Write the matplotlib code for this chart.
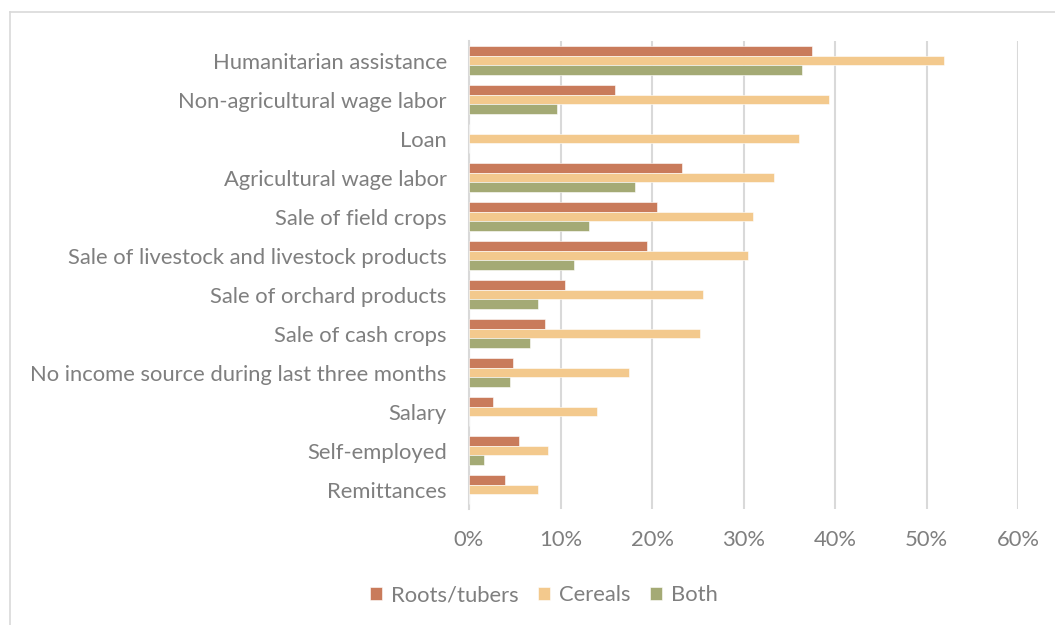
import numpy as np
import matplotlib
matplotlib.use("Agg")
import matplotlib.pyplot as plt
from matplotlib.lines import Line2D
from matplotlib.ticker import PercentFormatter

# income sources, top to bottom
sources = [
    "Humanitarian assistance",
    "Non-agricultural wage labor",
    "Loan",
    "Agricultural wage labor",
    "Sale of field crops",
    "Sale of livestock and livestock products",
    "Sale of orchard products",
    "Sale of cash crops",
    "No income source during last three months",
    "Salary",
    "Self-employed",
    "Remittances",
]

# share of households (%) per main crop group
roots_tubers = [37.5, 16.0, 0.0, 23.3, 20.5, 19.5, 10.5, 8.3, 4.8, 2.6, 5.5, 3.9]
cereals = [51.9, 39.3, 36.1, 33.3, 31.0, 30.5, 25.6, 25.3, 17.5, 14.0, 8.6, 7.5]
both = [36.4, 9.6, 0.0, 18.1, 13.1, 11.5, 7.5, 6.7, 4.5, 0.0, 1.6, 0.0]

series_names = ["Roots/tubers", "Cereals", "Both"]
colors = ["#C97B5B", "#F3C98D", "#A4AA75"]
text_gray = "#7F7F7F"

plt.rcParams["font.family"] = ["Lato", "DejaVu Sans"]

fig = plt.figure(figsize=(10.55, 6.25), dpi=100)
ax = fig.add_axes([469 / 1055, 1 - 509 / 625, 549 / 1055, 468 / 625])

y = np.arange(len(sources))
h = 0.255
for i, (vals, name, c) in enumerate(zip([roots_tubers, cereals, both], series_names, colors)):
    ax.barh(y + (i - 1) * h, vals, height=h, color=c, edgecolor="white",
            linewidth=0.4, label=name, zorder=3)

ax.set_xlim(0, 60)
ax.set_ylim(len(sources) - 0.5, -0.5)
ax.set_xticks(np.arange(0, 61, 10))
ax.xaxis.set_major_formatter(PercentFormatter(decimals=0))
ax.set_yticks(y)
ax.set_yticklabels(sources)
ax.tick_params(axis="both", length=0, labelsize=15.8, labelcolor=text_gray)
ax.tick_params(axis="x", pad=15)
ax.tick_params(axis="y", pad=16)
ax.grid(axis="x", color="#D9D9D9", linewidth=1.5, zorder=0)
for side in ["top", "right", "bottom"]:
    ax.spines[side].set_visible(False)
ax.spines["left"].set_color("#D9D9D9")
ax.spines["left"].set_linewidth(1.5)

ax.legend(loc="center", bbox_to_anchor=(544 / 1055, 1 - 595 / 625),
          bbox_transform=fig.transFigure, ncol=3, frameon=False,
          fontsize=15.8, labelcolor=text_gray, handlelength=0.55, handleheight=0.55,
          handletextpad=0.4, columnspacing=0.9)

# outer chart frame (top and left edges)
fig.add_artist(Line2D([10 / 1055, 1], [1 - 12 / 625, 1 - 12 / 625],
                      transform=fig.transFigure, color="#D9D9D9", linewidth=1.2))
fig.add_artist(Line2D([10 / 1055, 10 / 1055], [0, 1 - 12 / 625],
                      transform=fig.transFigure, color="#D9D9D9", linewidth=1.2))

fig.savefig("out.png", dpi=100, facecolor="white")
